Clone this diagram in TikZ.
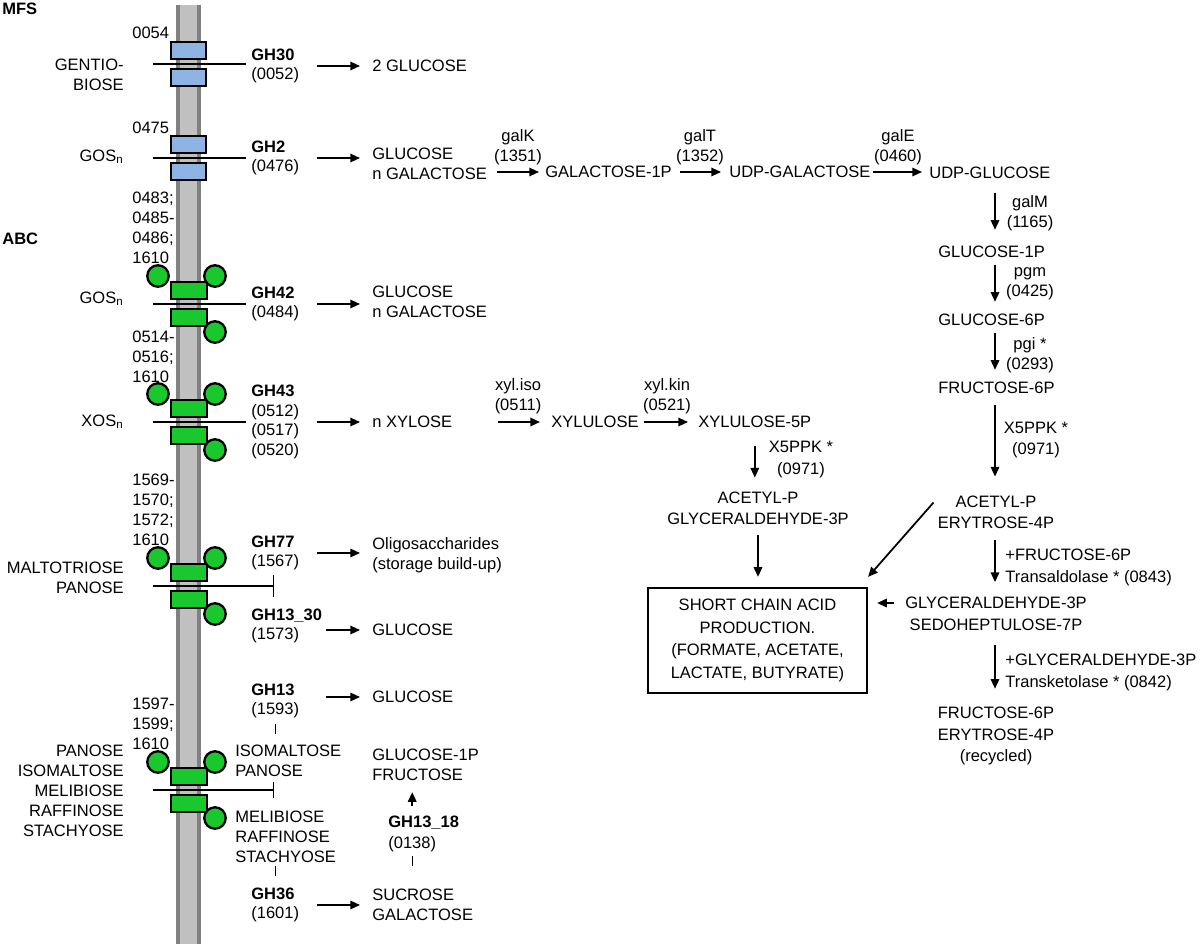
\documentclass[tikz,border=0pt]{standalone}
\usepackage{fontspec}
\setmainfont{Liberation Sans}
\usetikzlibrary{arrows.meta}

\definecolor{memfill}{RGB}{192,192,192}
\definecolor{memedge}{RGB}{128,128,128}
\definecolor{mfsblue}{RGB}{141,180,226}
\definecolor{abcgreen}{RGB}{25,200,45}

\tikzset{
  txt/.style={inner sep=0pt, font=\fontsize{9.4}{11.3}\selectfont},
  widetxt/.style={font=\fontsize{9.4}{12.2}\selectfont},
  flow/.style={line width=1pt, -{Triangle[length=5.5pt,width=4.8pt]}},
  memline/.style={line width=0.8pt},
  tick/.style={line width=0.8pt},
  mfsbox/.style={draw, line width=1.3pt, fill=mfsblue},
  abcbox/.style={draw, line width=1.3pt, fill=abcgreen},
  atpball/.style={draw, line width=1.3pt, fill=abcgreen},
}

\begin{document}
\begin{tikzpicture}[x=0.02cm, y=-0.02cm, every node/.style={txt}]
    \useasboundingbox (0,0) rectangle (1200,946);

    % membrane
    \fill[memfill] (176,5) rectangle (201,944);
    \fill[memedge] (176,5) rectangle (180,944);
    \fill[memedge] (197,5) rectangle (201,944);

    \node[anchor=west] (mfs) at (2,9) {\textbf{MFS}};
    \node[anchor=west] (abc) at (2,239) {\textbf{ABC}};

    % MFS transporters
    \draw[mfsbox] (171,42) rectangle (206,59);
    \draw[mfsbox] (171,69) rectangle (206,86);
    \draw[memline] (153,64) -- (246,64);
    \draw[mfsbox] (171,136) rectangle (206,153);
    \draw[mfsbox] (171,163) rectangle (206,180);
    \draw[memline] (153,158) -- (246,158);

    % ABC transporters
    \draw[abcbox] (171,282) rectangle (207,299);
    \draw[abcbox] (171,309) rectangle (207,326);
    \draw[atpball] (158,276) circle[radius=0.215cm];
    \draw[atpball] (215,276) circle[radius=0.215cm];
    \draw[atpball] (215,332) circle[radius=0.215cm];
    \draw[memline] (153,304) -- (246,304);

    \draw[abcbox] (171,400) rectangle (207,417);
    \draw[abcbox] (171,427) rectangle (207,444);
    \draw[atpball] (158,394) circle[radius=0.215cm];
    \draw[atpball] (215,394) circle[radius=0.215cm];
    \draw[atpball] (215,450) circle[radius=0.215cm];
    \draw[memline] (153,422) -- (246,422);

    \draw[abcbox] (171,564) rectangle (207,581);
    \draw[abcbox] (171,591) rectangle (207,608);
    \draw[atpball] (158,558) circle[radius=0.215cm];
    \draw[atpball] (215,558) circle[radius=0.215cm];
    \draw[atpball] (215,614) circle[radius=0.215cm];
    \draw[memline, -{Bar[width=13pt]}] (153,586) -- (274,586);

    \draw[abcbox] (171,768) rectangle (207,785);
    \draw[abcbox] (171,795) rectangle (207,812);
    \draw[atpball] (158,762) circle[radius=0.215cm];
    \draw[atpball] (215,762) circle[radius=0.215cm];
    \draw[atpball] (215,818) circle[radius=0.215cm];
    \draw[memline, -{Bar[width=9.5pt]}] (153,790) -- (274,790);

    % substrates outside
    \node[anchor=east, align=right] (gentio) at (124,75) {GENTIO-\\BIOSE};
    \node[anchor=east] (gosa) at (124,157) {GOS\textsubscript{n}};
    \node[anchor=east] (gosb) at (124,299) {GOS\textsubscript{n}};
    \node[anchor=east] (xos) at (124,422) {XOS\textsubscript{n}};
    \node[anchor=east, align=right] (malto) at (124,578) {MALTOTRIOSE\\PANOSE};
    \node[anchor=east, align=right] (rfo) at (124,791) {PANOSE\\ISOMALTOSE\\MELIBIOSE\\RAFFINOSE\\STACHYOSE};

    % transporter loci
    \node[anchor=west] (t0054) at (132,33) {0054};
    \node[anchor=west] (t0475) at (132,128) {0475};
    \node[anchor=west, align=left] (t0483) at (132,228) {0483;\\0485-\\0486;\\1610};
    \node[anchor=west, align=left] (t0514) at (132,357) {0514-\\0516;\\1610};
    \node[anchor=west, align=left] (t1569) at (132,510) {1569-\\1570;\\1572;\\1610};
    \node[anchor=west, align=left] (t1597) at (132,724) {1597-\\1599;\\1610};

    % glycosyl hydrolases
    \node[anchor=west, align=left] (gh30) at (251,66) {\textbf{GH30}\\(0052)};
    \node[anchor=west, align=left] (gh2) at (251,158) {\textbf{GH2}\\(0476)};
    \node[anchor=west, align=left] (gh42) at (251,304) {\textbf{GH42}\\(0484)};
    \node[anchor=west, align=left] (gh43) at (251,422) {\textbf{GH43}\\(0512)\\(0517)\\(0520)};
    \node[anchor=west, align=left] (gh77) at (251,553) {\textbf{GH77}\\(1567)};
    \node[anchor=west, align=left] (gh1330) at (251,626) {\textbf{GH13\_30}\\(1573)};
    \node[anchor=west, align=left] (gh13) at (251,701) {\textbf{GH13}\\(1593)};
    \node[anchor=west, align=left] (isopan) at (235,761) {ISOMALTOSE\\PANOSE};
    \node[anchor=west, align=left] (melraf) at (235,837) {MELIBIOSE\\RAFFINOSE\\STACHYOSE};
    \node[anchor=west, align=left] (gh36) at (251,905) {\textbf{GH36}\\(1601)};
    \draw[tick] (gh13.south) ++(0,5) -- ++(0,10);
    \draw[tick] (gh36.north) ++(0,-11) -- ++(0,-10);

    % products
    \node[anchor=west] (glca) at (372,66) {2 GLUCOSE};
    \node[anchor=west, align=left] (glcgal) at (372,164) {GLUCOSE\\n GALACTOSE};
    \node[anchor=west, align=left] (glcgalb) at (372,302) {GLUCOSE\\n GALACTOSE};
    \node[anchor=west] (nxyl) at (372,422) {n XYLOSE};
    \node[anchor=west, align=left] (oligo) at (372,555) {Oligosaccharides\\(storage build-up)};
    \node[anchor=west] (glcb) at (372,630) {GLUCOSE};
    \node[anchor=west] (glcc) at (372,697) {GLUCOSE};
    \node[anchor=west, align=left] (glcfru) at (372,765) {GLUCOSE-1P\\FRUCTOSE};
    \node[anchor=west] (gh1318) at (388,823) {\textbf{GH13\_18}};
    \node[anchor=west] (t0138) at (388,844) {(0138)};
    \node[anchor=west, align=left] (sucgal) at (372,905) {SUCROSE\\GALACTOSE};

    \coordinate (cola) at (317,0);
    \coordinate (colb) at (326,0);
    \draw[flow, shorten >=0.24cm] (gh30 -| cola) -- (gh30 -| glca.west);
    \draw[flow, shorten >=0.24cm] (gh2 -| cola) -- (gh2 -| glcgal.west);
    \draw[flow, shorten >=0.24cm] (gh42 -| cola) -- (gh42 -| glcgalb.west);
    \draw[flow, shorten >=0.24cm] (gh43 -| cola) -- (gh43 -| nxyl.west);
    \draw[flow, shorten >=0.24cm] (gh77 -| cola) -- (gh77 -| oligo.west);
    \draw[flow, shorten >=0.24cm] (glcb -| colb) -- (glcb.west);
    \draw[flow, shorten >=0.24cm] (glcc -| colb) -- (glcc.west);
    \draw[flow, shorten >=0.24cm] (gh36 -| cola) -- (gh36 -| sucgal.west);
    \draw[flow, shorten <=0.19cm, shorten >=0.22cm] (gh1318.north -| t0138) -- (glcfru.south -| t0138);
    \draw[tick] (t0138.south) ++(0,4) -- ++(0,10);

    % galactose branch
    \node[anchor=west] (galp) at (545,172) {GALACTOSE-1P};
    \node[anchor=west] (udpgal) at (729,172) {UDP-GALACTOSE};
    \node[anchor=west] (udpglc) at (929,173) {UDP-GLUCOSE};
    \node[align=center] (galk) at (518,147) {galK\\(1351)};
    \node[align=center] (galt) at (700,147) {galT\\(1352)};
    \node[align=center] (gale) at (898,147) {galE\\(0460)};
    \draw[flow, shorten <=0.2cm, shorten >=0.12cm] (glcgal.east |- galp.west) -- (galp.west);
    \draw[flow, shorten <=0.16cm, shorten >=0.16cm] (galp.east) -- (udpgal.west);
    \draw[flow, shorten <=0.04cm, shorten >=0.14cm] (udpgal.east) -- (udpgal.east -| udpglc.west);

    \coordinate (vcol) at (995,0);
    \node[anchor=west] (glc1p) at (938,252) {GLUCOSE-1P};
    \node[anchor=west] (glc6p) at (938,320) {GLUCOSE-6P};
    \node[anchor=west] (fru6p) at (938,388) {FRUCTOSE-6P};
    \node[widetxt, align=center] (acete) at (996,512.5) {ACETYL-P\\ERYTROSE-4P};
    \node[widetxt, align=center] (gapsed) at (996,614) {GLYCERALDEHYDE-3P\\SEDOHEPTULOSE-7P};
    \node[widetxt, align=center] (recyc) at (996,736) {FRUCTOSE-6P\\ERYTROSE-4P\\(recycled)};
    \node[align=center] (galm) at (1030,213) {galM\\(1165)};
    \node[align=center] (pgm) at (1030,284) {pgm\\(0425)};
    \node[align=center] (pgi) at (1030,355) {pgi *\\(0293)};
    \node[widetxt, align=center] (x5ppke) at (1036,440) {X5PPK *\\(0971)};
    \node[widetxt, anchor=west, align=left] (tald) at (1005,567.5) {+FRUCTOSE-6P\\Transaldolase * (0843)};
    \node[widetxt, anchor=west, align=left] (tket) at (1005,672.5) {+GLYCERALDEHYDE-3P\\Transketolase * (0842)};
    \draw[flow, shorten <=0.28cm, shorten >=0.32cm] (udpglc.south -| vcol) -- (glc1p.north -| vcol);
    \draw[flow, shorten <=0.14cm, shorten >=0.24cm] (glc1p.south -| vcol) -- (glc6p.north -| vcol);
    \draw[flow, shorten <=0.14cm, shorten >=0.24cm] (glc6p.south -| vcol) -- (fru6p.north -| vcol);
    \draw[flow, shorten <=0.22cm, shorten >=0.38cm] (fru6p.south -| vcol) -- (acete.north -| vcol);
    \draw[flow, shorten <=0.22cm, shorten >=0.3cm] (acete.south -| vcol) -- (gapsed.north -| vcol);
    \draw[flow, shorten <=0.28cm, shorten >=0.36cm] (gapsed.south -| vcol) -- (recyc.north -| vcol);

    % xylose branch
    \node[anchor=west] (xylu) at (551,422) {XYLULOSE};
    \node[anchor=west] (xyl5p) at (698,422) {XYLULOSE-5P};
    \node[align=center] (xyliso) at (518,396) {xyl.iso\\(0511)};
    \node[align=center] (xylkin) at (667,396) {xyl.kin\\(0521)};
    \node[widetxt, align=center] (x5ppkx) at (801,459.5) {X5PPK *\\(0971)};
    \node[widetxt, align=center] (acetg) at (758,508.5) {ACETYL-P\\GLYCERALDEHYDE-3P};
    \draw[flow, shorten <=0.9cm, shorten >=0.22cm] (nxyl.east) -- (xylu.west);
    \draw[flow, shorten <=0.1cm, shorten >=0.2cm] (xylu.east) -- (xyl5p.west);
    \draw[flow, shorten <=0.36cm, shorten >=0.28cm] (xyl5p.south) -- (xyl5p.south |- acetg.north);

    % end product
    \node[draw, line width=1.3pt, minimum width=4.38cm, minimum height=2.1cm, align=center,
          font=\fontsize{9.4}{13}\selectfont] (scfa) at (757.5,640.5)
          {SHORT CHAIN ACID\\PRODUCTION.\\(FORMATE, ACETATE,\\LACTATE, BUTYRATE)};
    \draw[flow, shorten <=0.2cm, shorten >=0.2cm] (acetg.south) -- (acetg.south |- scfa.north);
    \draw[flow] ([xshift=-0.08cm, yshift=0.2cm]acete.west) -- ([yshift=0.2cm]scfa.north east);
    \draw[flow, shorten <=0.22cm, shorten >=0.18cm] ([yshift=0.22cm]gapsed.west) -- ([yshift=0.22cm]gapsed.west -| scfa.east);
\end{tikzpicture}
\end{document}
